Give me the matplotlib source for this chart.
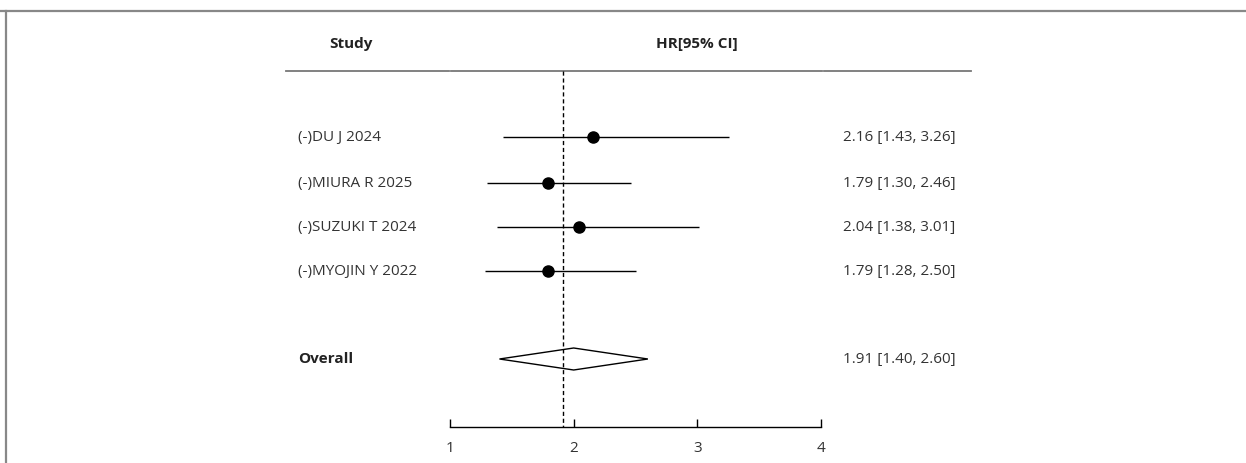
import matplotlib
matplotlib.use('Agg')
import matplotlib.pyplot as plt
from matplotlib.lines import Line2D
from matplotlib.transforms import blended_transform_factory

studies = ['(-)DU J 2024', '(-)MIURA R 2025', '(-)SUZUKI T 2024', '(-)MYOJIN Y 2022']
hr = [2.16, 1.79, 2.04, 1.79]
lo = [1.43, 1.30, 1.38, 1.28]
hi = [3.26, 2.46, 3.01, 2.50]
overall = (1.91, 1.40, 2.60)
ticks = [1, 2, 3, 4]

plt.rcParams['font.family'] = ['Open Sans', 'DejaVu Sans']
fs = 11

W, H = 1246, 463
fig = plt.figure(figsize=(W / 100, H / 100), dpi=100)
ax = fig.add_axes([0, 0, 1, 1])

# x in HR units: 1 sits at px 450, 4 at px 821
unit = (821 - 450) / 3
ax.set_xlim(1 - 450 / unit, 4 + (W - 821) / unit)
ax.set_ylim(H, 0)
tr = blended_transform_factory(ax.transAxes, ax.transData)

row_y = [137, 183, 227, 271]
ov_y = 359

# header
ax.text(351 / W, 44, 'Study', transform=tr, ha='center', va='center',
        fontsize=fs, fontweight='bold', color='#222222')
ax.text(697 / W, 44, 'HR[95% CI]', transform=tr, ha='center', va='center',
        fontsize=fs, fontweight='bold', color='#222222')
for a, b in [(286, 449), (451, 822), (824, 971)]:
    ax.add_line(Line2D([a / W, b / W], [71, 71], transform=tr, color='#777777', lw=1.3))

# studies
ax.hlines(row_y, lo, hi, color='black', lw=1)
ax.plot(hr, row_y, 'o', color='black', ms=8)
for name, y, h, l, u in zip(studies, row_y, hr, lo, hi):
    ax.text(298 / W, y, name, transform=tr, ha='left', va='center', fontsize=fs, color='#333333')
    ax.text(843 / W, y, f'{h:.2f} [{l:.2f}, {u:.2f}]', transform=tr, ha='left', va='center',
            fontsize=fs, color='#333333')

# overall diamond (apex drawn at the middle of the interval, as in the source)
est, ol, ou = overall
mid = (ol + ou) / 2
ax.fill([ol, mid, ou, mid], [ov_y, ov_y - 11, ov_y, ov_y + 11], facecolor='white',
        edgecolor='black', lw=1)
ax.text(298 / W, ov_y, 'Overall', transform=tr, ha='left', va='center', fontsize=fs,
        fontweight='bold', color='#222222')
ax.text(843 / W, ov_y, f'{est:.2f} [{ol:.2f}, {ou:.2f}]', transform=tr, ha='left',
        va='center', fontsize=fs, color='#333333')

# reference line at overall estimate
ax.vlines(est, 71, 427, color='black', lw=1, linestyles=(0, (3, 2)))

# x axis
for s in ['top', 'left', 'right']:
    ax.spines[s].set_visible(False)
ax.spines['bottom'].set_position(('data', 427))
ax.spines['bottom'].set_bounds(1, 4)
ax.spines['bottom'].set_linewidth(1)
ax.set_xticks(ticks)
ax.set_xticklabels([str(t) for t in ticks])
ax.tick_params(axis='x', direction='in', length=6, width=1, labelsize=fs, pad=10,
               labelcolor='#333333')
ax.set_yticks([])
ax.patch.set_visible(False)

# frame
fig.add_artist(Line2D([0, 1], [1 - 11 / H, 1 - 11 / H], color='#888888', lw=1.6))
fig.add_artist(Line2D([5.5 / W, 5.5 / W], [0, 1 - 11 / H], color='#888888', lw=1.6))

fig.savefig('out.png', dpi=100)
